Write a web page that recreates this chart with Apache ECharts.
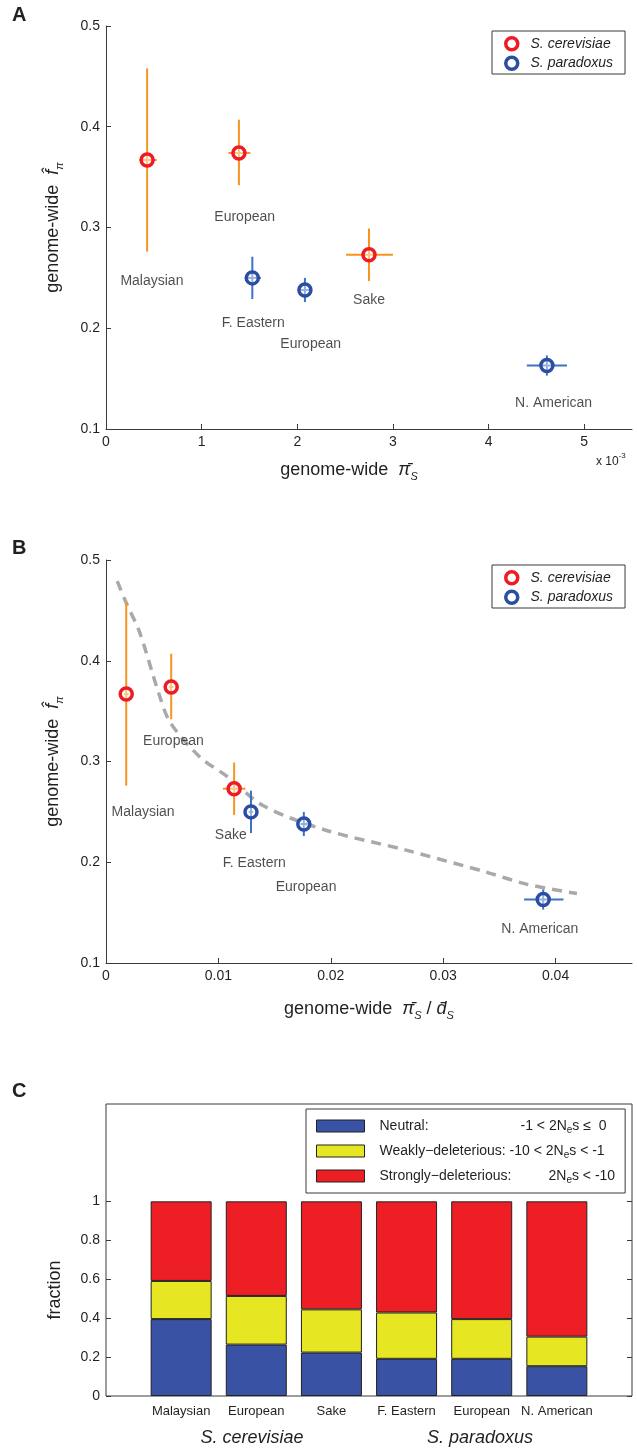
<!DOCTYPE html>
<html>
<head>
<meta charset="utf-8">
<script src="https://cdn.jsdelivr.net/npm/echarts@6/dist/echarts.min.js"></script>
<style>
  html, body { margin: 0; padding: 0; background: #fff; }
  #chart { width: 637px; height: 1450px; }
</style>
</head>
<body>
<div id="chart"></div>
<script>
// ---- data: panels A and B ----
// genome-wide f-hat, same in A and B (S. cerevisiae: Malaysian, European, Sake)
const cerF = [0.367, 0.374, 0.273];
const cerFlo = [0.276, 0.342, 0.247];
const cerFhi = [0.458, 0.407, 0.299];
// S. paradoxus: F. Eastern, European, N. American
const parF = [0.250, 0.238, 0.163];
const parFlo = [0.229, 0.226, 0.153];
const parFhi = [0.271, 0.250, 0.173];

// A: genome-wide pi_S (x 10^-3)
const cerPi = [0.43, 1.39, 2.75];
const cerPiLo = [0.35, 1.28, 2.51];
const cerPiHi = [0.53, 1.51, 3.00];
const parPi = [1.53, 2.08, 4.61];
const parPiLo = [1.45, 2.03, 4.40];
const parPiHi = [1.62, 2.13, 4.82];

// B: genome-wide pi_S / d_S
const cerRatio = [0.0018, 0.0058, 0.0114];
const cerRatioLo = [0.0016, 0.0056, 0.0104];
const cerRatioHi = [0.0020, 0.0060, 0.0124];
const parRatio = [0.0129, 0.0176, 0.0389];
const parRatioLo = [0.0127, 0.0173, 0.0372];
const parRatioHi = [0.0131, 0.0179, 0.0407];

// B: dashed fit curve
const fitRatio = [0.0010, 0.0017, 0.0030, 0.0046, 0.0057, 0.0084, 0.0108, 0.0140, 0.0195, 0.0267, 0.0339, 0.0375, 0.0419];
const fitF = [0.479, 0.460, 0.428, 0.371, 0.339, 0.304, 0.285, 0.256, 0.232, 0.212, 0.190, 0.178, 0.169];

// population name labels and where they sit (data coords)
const popLabels = ['Malaysian', 'European', 'Sake', 'F. Eastern', 'European', 'N. American'];
const labAx = [0.48, 1.45, 2.75, 1.54, 2.14, 4.68];
const labAy = [0.247, 0.310, 0.228, 0.205, 0.184, 0.126];
const labBx = [0.0033, 0.0060, 0.0111, 0.0132, 0.0178, 0.0386];
const labBy = [0.250, 0.320, 0.227, 0.199, 0.175, 0.134];

// ---- data: panel C ----
const popCats = ['Malaysian', 'European', 'Sake', 'F. Eastern', 'European', 'N. American'];
const neutral = [0.395, 0.264, 0.223, 0.191, 0.191, 0.153];
const weakDel = [0.196, 0.250, 0.222, 0.238, 0.204, 0.152];
const strongDel = [0.409, 0.486, 0.555, 0.571, 0.605, 0.695];

const ticksA = [0, 1, 2, 3, 4, 5];
const ticksB = [0, 0.01, 0.02, 0.03, 0.04];
const ticksF = [0.1, 0.2, 0.3, 0.4, 0.5];
const ticksC = [0, 0.2, 0.4, 0.6, 0.8, 1];

const FONT = '"Liberation Sans", Arial, sans-serif';
const INK = '#231f20';
const AXIS = '#3a3a3a';
const RED = '#ed1c24', ORANGE = '#f7941d', BLUE = '#2b4ea2', LBLUE = '#3d72c4';

const chart = echarts.init(document.getElementById('chart'), null, { renderer: 'canvas' });

const nameRich = {
    n: { fontSize: 18, fontFamily: FONT, color: INK, lineHeight: 24 },
    i: { fontSize: 18, fontFamily: FONT, color: INK, fontStyle: 'italic', lineHeight: 24 },
    s: { fontSize: 11, fontFamily: FONT, color: INK, fontStyle: 'italic', lineHeight: 11, verticalAlign: 'bottom' }
};

function errBars(color) {
    return function (params, api) {
        const x = api.value(0), y = api.value(1);
        const l = api.coord([api.value(2), y]);
        const r = api.coord([api.value(3), y]);
        const b = api.coord([x, api.value(4)]);
        const t = api.coord([x, api.value(5)]);
        const st = { stroke: color, lineWidth: 2 };
        return {
            type: 'group',
            children: [
                { type: 'line', shape: { x1: l[0], y1: l[1], x2: r[0], y2: r[1] }, style: st },
                { type: 'line', shape: { x1: b[0], y1: b[1], x2: t[0], y2: t[1] }, style: st }
            ]
        };
    };
}

function errData(xs, ys, xlo, xhi, ylo, yhi) {
    return xs.map((x, i) => [x, ys[i], xlo[i], xhi[i], ylo[i], yhi[i]]);
}

function pointSeries(name, xi, xs, ys, color) {
    return {
        name: name,
        type: 'scatter',
        xAxisIndex: xi, yAxisIndex: xi,
        symbol: 'circle',
        symbolSize: 12,
        z: 5,
        itemStyle: { color: 'rgba(255,255,255,0.45)', borderColor: color, borderWidth: 3.5, opacity: 1 },
        data: xs.map((x, i) => [x, ys[i]])
    };
}

function labelSeries(xi, xs, ys) {
    return {
        type: 'scatter',
        xAxisIndex: xi, yAxisIndex: xi,
        symbolSize: 0,
        silent: true,
        z: 6,
        label: {
            show: true, position: 'inside', formatter: '{b}',
            fontFamily: FONT, fontSize: 14, color: INK
        },
        data: xs.map((x, i) => ({ name: popLabels[i], value: [x, ys[i]] }))
    };
}

function scatterX(gi, max, ticks, name, extra) {
    return Object.assign({
        type: 'value', gridIndex: gi, min: 0, max: max,
        axisLine: { show: true, lineStyle: { color: AXIS, width: 1 } },
        axisTick: { show: true, inside: true, length: 5, customValues: ticks, lineStyle: { color: AXIS } },
        axisLabel: { customValues: ticks, color: INK, fontFamily: FONT, fontSize: 14, margin: 6 },
        splitLine: { show: false },
        name: name, nameLocation: 'middle', nameGap: 29,
        nameTextStyle: { rich: nameRich }
    }, extra || {});
}

function scatterY(gi) {
    return {
        type: 'value', gridIndex: gi, min: 0.1, max: 0.5,
        axisLine: { show: true, lineStyle: { color: AXIS, width: 1 } },
        axisTick: { show: true, inside: true, length: 5, customValues: ticksF, lineStyle: { color: AXIS } },
        axisLabel: { customValues: ticksF, color: INK, fontFamily: FONT, fontSize: 14, margin: 6 },
        splitLine: { show: false },
        name: '{n|genome-wide  }{i|f\u0302}{s|\u03c0}',
        nameLocation: 'middle', nameGap: 41,
        nameTextStyle: { rich: nameRich }
    };
}

function speciesLegend(top) {
    return {
        orient: 'vertical', left: 492, top: top,
        icon: 'circle', itemWidth: 12, itemHeight: 12, itemGap: 4,
        padding: [5, 12, 3, 12],
        borderColor: AXIS, borderWidth: 1, backgroundColor: '#fff',
        selectedMode: false,
        formatter: name => '  ' + name,
        textStyle: { fontFamily: FONT, fontSize: 14, fontStyle: 'italic', color: INK },
        data: [
            { name: 'S. cerevisiae', itemStyle: { color: '#fff', borderColor: RED, borderWidth: 3.5 } },
            { name: 'S. paradoxus', itemStyle: { color: '#fff', borderColor: BLUE, borderWidth: 3.5 } }
        ]
    };
}

const legendRich = {
    g: { width: 10 },
    t: { fontFamily: FONT, fontSize: 14, color: INK, lineHeight: 18 },
    w1: { fontFamily: FONT, fontSize: 14, color: INK, lineHeight: 18, width: 141 },
    w3: { fontFamily: FONT, fontSize: 14, color: INK, lineHeight: 18, width: 169 },
    e: { fontFamily: FONT, fontSize: 10, color: INK, lineHeight: 10, verticalAlign: 'bottom' }
};
const legendText = {
    'Neutral': '{g| }{w1|Neutral:}{t|-1 < 2N}{e|e}{t|s \u2264  0}',
    'Weakly-deleterious': '{g| }{t|Weakly\u2212deleterious: -10 < 2N}{e|e}{t|s < -1}',
    'Strongly-deleterious': '{g| }{w3|Strongly\u2212deleterious:}{t|2N}{e|e}{t|s < -10}'
};

// blank slots at both ends put the six bars at 1..6 on a 0..7 scale
const barCats = [''].concat(popCats, ['']);

function barSeries(name, values, color) {
    return {
        name: name, type: 'bar', stack: 'frac',
        xAxisIndex: 2, yAxisIndex: 2,
        barWidth: 61,
        itemStyle: { color: color, borderColor: '#222', borderWidth: 1 },
        data: ['-'].concat(values, ['-'])
    };
}

const option = {
    backgroundColor: '#fff',
    animation: false,
    textStyle: { fontFamily: FONT },
    grid: [
        { left: 106, top: 26, width: 526, height: 403 },
        { left: 106, top: 560, width: 526, height: 403 },
        { left: 106, top: 1104, width: 526, height: 292, show: true, borderColor: AXIS, borderWidth: 1 }
    ],
    legend: [
        speciesLegend(31),
        speciesLegend(565),
        {
            orient: 'vertical', left: 306, top: 1109,
            icon: 'rect', itemWidth: 48, itemHeight: 12, itemGap: 9,
            padding: [10, 10, 8, 10],
            borderColor: AXIS, borderWidth: 1, backgroundColor: '#fff',
            selectedMode: false,
            itemStyle: { borderColor: '#222', borderWidth: 1 },
            formatter: name => legendText[name],
            textStyle: { rich: legendRich },
            data: ['Neutral', 'Weakly-deleterious', 'Strongly-deleterious']
        }
    ],
    xAxis: [
        scatterX(0, 5.5, ticksA, '{n|genome-wide  }{i|\u03c0\u0304}{s|S}',
            { nameTextStyle: { rich: nameRich, padding: [0, 40, 0, 0] } }),
        scatterX(1, 0.0468, ticksB, '{n|genome-wide  }{i|\u03c0\u0304}{s|S}{n| / }{i|d\u0304}{s|S}',
            { nameGap: 34 }),
        {
            type: 'category', gridIndex: 2, data: barCats, boundaryGap: false,
            axisLine: { show: false },
            axisTick: { show: false },
            axisLabel: { interval: 0, color: INK, fontFamily: FONT, fontSize: 13, margin: 9 },
            splitLine: { show: false }
        }
    ],
    yAxis: [
        scatterY(0),
        scatterY(1),
        {
            type: 'value', gridIndex: 2, min: 0, max: 1.5,
            axisLine: { show: false },
            axisTick: { show: true, inside: true, length: 5, customValues: ticksC, lineStyle: { color: AXIS } },
            axisLabel: { customValues: ticksC, color: INK, fontFamily: FONT, fontSize: 14, margin: 6 },
            splitLine: { show: false },
            name: 'fraction', nameLocation: 'middle', nameGap: 42,
            nameTextStyle: { fontFamily: FONT, fontSize: 18, color: INK, padding: [0, 80, 0, 0] }
        },
        {
            type: 'value', gridIndex: 2, min: 0, max: 1.5, position: 'right',
            axisLine: { show: false },
            axisTick: { show: true, inside: true, length: 5, customValues: ticksC, lineStyle: { color: AXIS } },
            axisLabel: { show: false },
            splitLine: { show: false }
        }
    ],
    series: [
        // panel A
        { type: 'custom', xAxisIndex: 0, yAxisIndex: 0, z: 3, renderItem: errBars(ORANGE), encode: { x: 0, y: 1 },
          data: errData(cerPi, cerF, cerPiLo, cerPiHi, cerFlo, cerFhi) },
        { type: 'custom', xAxisIndex: 0, yAxisIndex: 0, z: 3, renderItem: errBars(LBLUE), encode: { x: 0, y: 1 },
          data: errData(parPi, parF, parPiLo, parPiHi, parFlo, parFhi) },
        pointSeries('S. cerevisiae', 0, cerPi, cerF, RED),
        pointSeries('S. paradoxus', 0, parPi, parF, BLUE),
        labelSeries(0, labAx, labAy),
        // panel B
        {
            type: 'line', xAxisIndex: 1, yAxisIndex: 1, z: 2,
            smooth: 0.3, showSymbol: false, silent: true,
            lineStyle: { color: '#a9a9a9', width: 3.5, type: [10, 7] },
            data: fitRatio.map((x, i) => [x, fitF[i]])
        },
        { type: 'custom', xAxisIndex: 1, yAxisIndex: 1, z: 3, renderItem: errBars(ORANGE), encode: { x: 0, y: 1 },
          data: errData(cerRatio, cerF, cerRatioLo, cerRatioHi, cerFlo, cerFhi) },
        { type: 'custom', xAxisIndex: 1, yAxisIndex: 1, z: 3, renderItem: errBars(LBLUE), encode: { x: 0, y: 1 },
          data: errData(parRatio, parF, parRatioLo, parRatioHi, parFlo, parFhi) },
        pointSeries('S. cerevisiae', 1, cerRatio, cerF, RED),
        pointSeries('S. paradoxus', 1, parRatio, parF, BLUE),
        labelSeries(1, labBx, labBy),
        // panel C
        barSeries('Neutral', neutral, '#3a52a3'),
        barSeries('Weakly-deleterious', weakDel, '#e6e622'),
        barSeries('Strongly-deleterious', strongDel, '#ed1f24')
    ],
    graphic: [
        { type: 'text', left: 12, top: 5, style: { text: 'A', font: 'bold 20px ' + FONT, fill: INK } },
        { type: 'text', left: 12, top: 538, style: { text: 'B', font: 'bold 20px ' + FONT, fill: INK } },
        { type: 'text', left: 12, top: 1081, style: { text: 'C', font: 'bold 20px ' + FONT, fill: INK } },
        {
            type: 'text', left: 596, top: 452,
            style: {
                text: '{n|x 10}{u|-3}',
                rich: {
                    n: { fontFamily: FONT, fontSize: 12, fill: INK, lineHeight: 20 },
                    u: { fontFamily: FONT, fontSize: 8, fill: INK, lineHeight: 8, verticalAlign: 'top' }
                }
            }
        },
        { type: 'text', x: 252, y: 1438, style: { text: 'S. cerevisiae', font: 'italic 18px ' + FONT, fill: INK, align: 'center', verticalAlign: 'middle' } },
        { type: 'text', x: 480, y: 1438, style: { text: 'S. paradoxus', font: 'italic 18px ' + FONT, fill: INK, align: 'center', verticalAlign: 'middle' } }
    ]
};

chart.setOption(option);
window.addEventListener('resize', () => chart.resize());
</script>
</body>
</html>
